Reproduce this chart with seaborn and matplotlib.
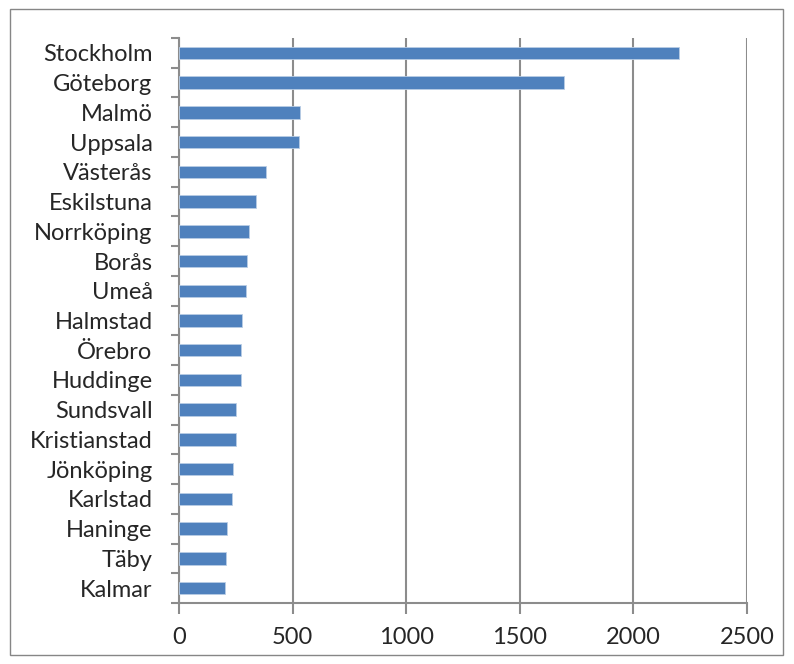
import matplotlib
matplotlib.use("Agg")
import matplotlib.pyplot as plt
import matplotlib.patches as mpatches
import seaborn as sns
import pandas as pd
import numpy as np

# --- data ---
cities = ['Stockholm', 'Göteborg', 'Malmö', 'Uppsala', 'Västerås', 'Eskilstuna',
          'Norrköping', 'Borås', 'Umeå', 'Halmstad', 'Örebro', 'Huddinge',
          'Sundsvall', 'Kristianstad', 'Jönköping', 'Karlstad', 'Haninge',
          'Täby', 'Kalmar']
values = [2200, 1695, 531, 528, 384, 337, 307, 299, 296, 277, 275, 271,
          252, 250, 238, 235, 212, 209, 204]
x_ticks = [0, 500, 1000, 1500, 2000, 2500]

df = pd.DataFrame({'city': cities, 'value': values})

sns.set_style("white")
plt.rcParams['font.family'] = ['Lato', 'DejaVu Sans']

fig = plt.figure(figsize=(7.94, 6.64), dpi=100)
ax = fig.add_axes([179 / 794, 1 - 603 / 664, (747 - 179) / 794, (603 - 38) / 664])

grid_col = '#8c8c8c'
sns.barplot(data=df, x='value', y='city', color='#4F81BD', width=0.42,
            edgecolor='#b9cde5', linewidth=0.6, saturation=1, ax=ax, zorder=3)

ax.set_xlim(0, 2500)
ax.set_ylim(len(cities) - 0.5, -0.5)
ax.set_xticks(x_ticks)
ax.set_xticklabels([str(t) for t in x_ticks], fontsize=17)
ax.set_yticks(np.arange(len(cities)))
ax.set_yticklabels(cities, fontsize=17)
ax.set_yticks(np.arange(len(cities) + 1) - 0.5, minor=True)
ax.tick_params(which='both', left=True, bottom=True)
ax.tick_params(axis='y', which='major', length=0, pad=19)
ax.tick_params(axis='y', which='minor', length=6, width=1.5, color=grid_col, direction='out')
ax.tick_params(axis='x', which='major', length=8, width=1.5, color=grid_col, direction='out', pad=9)
ax.set_xlabel('')
ax.set_ylabel('')

ax.xaxis.grid(True, color=grid_col, linewidth=1.5, zorder=0)
ax.set_axisbelow(True)
for side in ['top', 'right']:
    ax.spines[side].set_visible(False)
for side in ['left', 'bottom']:
    ax.spines[side].set_color(grid_col)
    ax.spines[side].set_linewidth(1.5)
ax.spines['bottom'].set_zorder(4)

# outer chart border
border = mpatches.Rectangle((10 / 794, 9 / 664), 773 / 794, 646 / 664,
                            transform=fig.transFigure, fill=False,
                            edgecolor='#868686', linewidth=1.0)
fig.patches.append(border)

fig.savefig('out.png', dpi=100)
